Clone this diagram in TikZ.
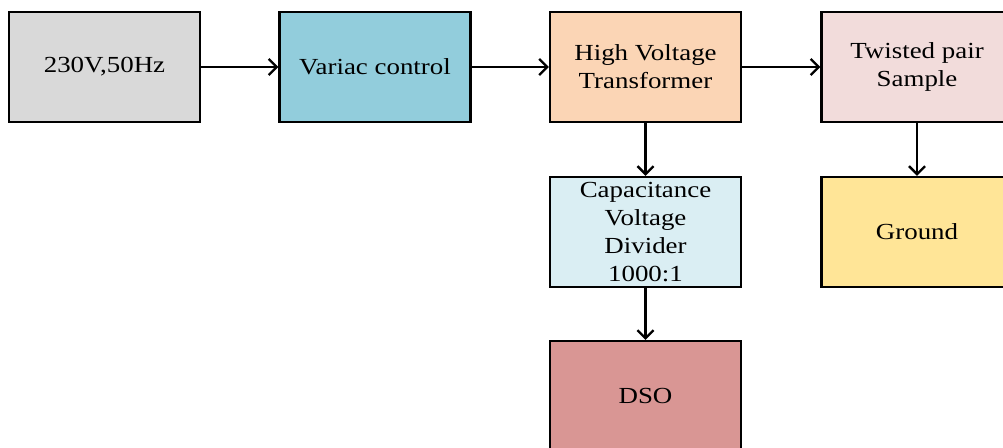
\documentclass[tikz,border=0pt]{standalone}
\usepackage{fontspec}
\setmainfont{Liberation Serif}[FakeStretch=1.17]
\usetikzlibrary{arrows.meta,positioning}

\definecolor{srcgray}{HTML}{D9D9D9}
\definecolor{variacblue}{HTML}{92CDDC}
\definecolor{hvpeach}{HTML}{FBD5B5}
\definecolor{samplepink}{HTML}{F2DCDB}
\definecolor{dividerblue}{HTML}{DAEEF3}
\definecolor{groundyellow}{HTML}{FFE597}
\definecolor{dsored}{HTML}{D99694}

\begin{document}
\begin{tikzpicture}[
    x=1pt, y=-1pt,
    blk/.style={draw, line width=2.2pt, minimum width=191pt, minimum height=110pt, align=center,
        font=\fontsize{23}{28}\selectfont, inner sep=2pt},
    arr/.style={-{Straight Barb[length=8pt,width=16pt,line width=2.4pt]}, line width=2.8pt}
]
\clip (0,0) rectangle (1003,447);
\node[blk, fill=srcgray] (S) at (104.5,67) {230V,50Hz};
\node[blk, fill=variacblue] (V) at (375,67) {Variac control};
\node[blk, fill=hvpeach] (H) at (645.5,67) {High Voltage\\Transformer};
\node[blk, fill=samplepink] (T) at (917,67) {Twisted pair\\Sample};
\node[blk, fill=dividerblue] (C) at (645.5,232) {Capacitance\\Voltage\\Divider\\1000:1};
\node[blk, fill=groundyellow] (G) at (917,232) {Ground};
\node[blk, fill=dsored] (D) at (645.5,396) {DSO};

\draw[arr] (S) -- (V);
\draw[arr] (V) -- (H);
\draw[arr] (H) -- (T);
\draw[arr] (H) -- (C);
\draw[arr] (C) -- (D);
\draw[arr] (T) -- (G);
\end{tikzpicture}
\end{document}
